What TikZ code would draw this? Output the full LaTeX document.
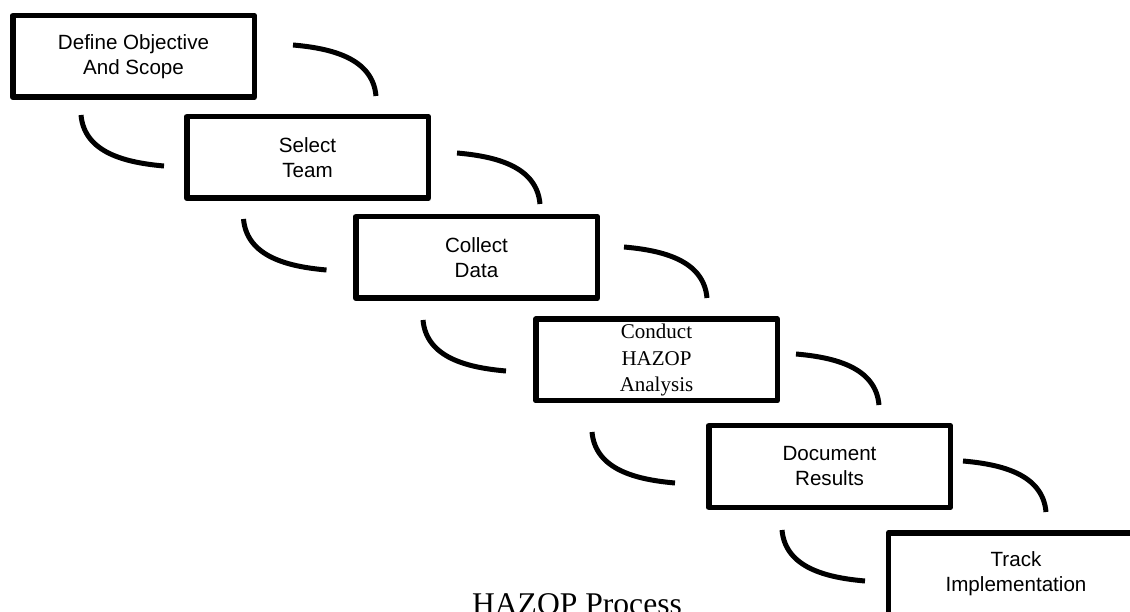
\documentclass[tikz,border=0pt]{standalone}
\usepackage{fontspec}
\setmainfont{Liberation Serif}
\setsansfont{Liberation Sans}

\begin{document}
\begin{tikzpicture}[x=1pt,y=1pt,
		stepbox/.style={fill=white,draw=black,line width=5.5pt,line join=round,minimum width=241.5pt,minimum height=81.5pt,inner sep=0pt,align=center,font=\sffamily\fontsize{20.6}{25}\selectfont},
		curl/.style={line width=5pt}]
			\useasboundingbox (0,0) rectangle (1130,611);
			\node[stepbox] (obj) at (133.5,554.5) {Define Objective\\And Scope};
			\node[stepbox] (team) at (307.5,453.5) {Select\\Team};
			\node[stepbox] (data) at (476.5,353.5) {Collect\\Data};
			\node[stepbox,font=\rmfamily\fontsize{21}{26.5}\selectfont] (hazop) at (656.5,251) {Conduct\\HAZOP\\Analysis};
			\node[stepbox] (doc) at (829.5,144.5) {Document\\Results};
			\node[stepbox,minimum width=255pt] (track) at (1016,37.5) {Track\\Implementation};
			\draw[curl] (obj.center) ++ (159.5,11.5) to[out=-5,in=95] ++ (83,-51);
			\draw[curl] (team.center) ++ (149.5,4.5) to[out=-5,in=95] ++ (83,-51);
			\draw[curl] (data.center) ++ (147.5,10.5) to[out=-5,in=95] ++ (83,-51);
			\draw[curl] (hazop.center) ++ (139.5,6) to[out=-5,in=95] ++ (83,-51);
			\draw[curl] (doc.center) ++ (133.5,5.5) to[out=-5,in=95] ++ (83,-51);
			\draw[curl] (obj.center) ++ (-52.5,-58.5) to[out=-85,in=175] ++ (83,-51);
			\draw[curl] (team.center) ++ (-64,-61.5) to[out=-85,in=175] ++ (83,-51);
			\draw[curl] (data.center) ++ (-53.5,-62.5) to[out=-85,in=175] ++ (83,-51);
			\draw[curl] (hazop.center) ++ (-64.5,-72) to[out=-85,in=175] ++ (83,-51);
			\draw[curl] (doc.center) ++ (-47.5,-63.5) to[out=-85,in=175] ++ (83,-51);
			\node[anchor=base,font=\rmfamily\fontsize{31.6}{38}\selectfont] (title) at (577,-3) {HAZOP Process};
		\end{tikzpicture}
\end{document}
